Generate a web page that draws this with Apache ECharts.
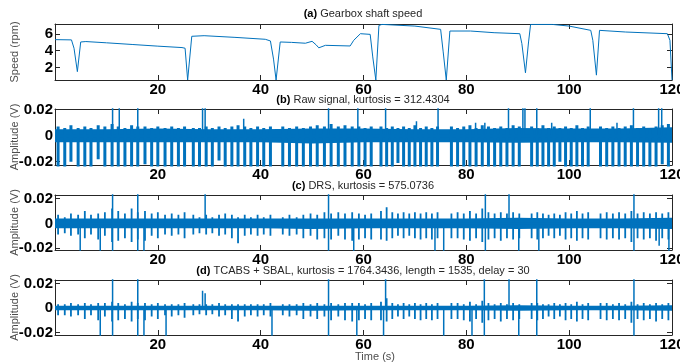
<!DOCTYPE html>
<html><head><meta charset="utf-8">
<script src="https://cdn.jsdelivr.net/npm/echarts@6/dist/echarts.min.js"></script>
<style>html,body{margin:0;padding:0;background:#fff}#c{width:680px;height:364px}</style>
</head><body><div id="c"></div>
<script>
// ---- data ----
const xTicks = [20, 40, 60, 80, 100, 120];
const speedTicks = [2, 4, 6];
const ampTicks = [-0.02, 0, 0.02];

// (a) gearbox shaft speed
const speedT = [0, 3.2, 3.7, 4.0, 4.35, 5.0, 6, 10, 15, 20, 24.7, 25.3, 25.8, 26.6, 29, 35, 40.9, 41.9, 42.5, 43.0, 43.8, 46, 48.7, 50.0, 50.8, 51.3, 52.6, 57.4, 58.1, 59.4, 61.3, 61.8, 62.4, 63.0, 63.6, 70, 75.0, 75.5, 76.1, 76.8, 80.8, 85.4, 90.4, 90.8, 91.5, 92.1, 92.5, 96.7, 100, 104.2, 104.6, 105.3, 105.9, 111, 119.1, 119.6, 120];
const speedV = [5.33, 5.3, 4.3, 4.1, 1.5, 5.05, 5.1, 4.95, 4.75, 4.55, 4.38, 4.3, 0.5, 5.73, 5.8, 5.6, 5.37, 5.17, 3.0, 0.5, 5.05, 5.0, 4.9, 5.13, 4.7, 4.35, 4.65, 4.57, 5.25, 6.04, 5.96, 3.26, 0.5, 7.03, 7.15, 6.95, 6.56, 3.86, 0.5, 6.36, 6.36, 6.16, 6.04, 4.85, 1.36, 5.05, 7.15, 7.15, 6.95, 6.44, 5.25, 1.08, 6.44, 6.24, 6.04, 5.25, 0.5];

// periodic impact times (s), shared by panels (b)-(d)
const combT = [0.6, 1.9, 3.1, 4.5, 5.8, 7.0, 8.4, 9.7, 11.1, 12.3, 13.6, 14.9, 16.1, 17.5, 18.8, 20.0, 21.4, 22.7, 24.0, 25.2,
  26.9, 28.1, 29.4, 30.6, 31.9, 33.1, 34.4, 35.6, 36.9, 38.1, 39.4, 40.6, 41.9,
  44.3, 45.6, 47.0, 48.3, 49.7, 51.0, 52.4, 53.7, 55.1, 56.4, 57.8,
  59.1, 60.3, 61.5,
  63.4, 64.5, 65.6, 66.7, 67.8, 68.9, 70.0, 71.1, 72.2, 73.3, 74.4,
  77.1, 78.3, 79.5, 80.7, 81.9, 83.1, 84.3, 85.5, 86.7, 87.9, 89.1, 90.3,
  92.7, 93.8, 94.9, 96.0, 97.1, 98.2, 99.3, 100.4, 101.5, 102.6, 103.7,
  106.1, 107.3, 108.5, 109.7, 110.9, 112.1, 113.3, 114.5, 115.7, 116.9, 118.1, 119.3];

// amplitudes in mV
const rawUp = [7,6,8,6,7,6,8,7,9,7,6,8,7,7,6,7,6,7,6,7,
  6,6,7,6,7,6,7,8,7,6,7,6,7,
  7,6,7,6,7,8,7,9,7,8,7,
  7,6,7,
  7,6,7,6,7,6,8,6,7,6,7,
  7,6,7,8,6,8,7,6,7,6,8,7,
  7,6,8,6,7,6,7,6,8,6,7,
  7,6,7,6,7,8,6,7,6,7,8,9];
const rawDown = [-24,-24,-20,-24,-24,-24,-18,-24,-24,-24,-24,-24,-24,-22,-24,-24,-24,-24,-24,-24,
  -24,-24,-24,-24,-19,-24,-24,-24,-24,-24,-24,-24,-24,
  -24,-24,-24,-24,-24,-24,-24,-24,-24,-24,-24,
  -24,-24,-24,
  -24,-24,-24,-21,-24,-24,-24,-24,-24,-24,-24,
  -24,-24,-24,-24,-24,-24,-24,-24,-24,-24,-24,-24,
  -24,-24,-24,-24,-24,-20,-24,-24,-24,-24,-24,
  -24,-24,-24,-24,-24,-24,-24,-24,-24,-24,-22,-24];
const drsUp = [7,5,8,7,10,7,8,9,12,10,8,12,9,10,8,9,7,8,7,9,
  7,5,7,5,7,8,7,5,7,5,7,5,7,
  5,7,5,7,8,7,9,8,9,8,9,
  8,7,8,
  10,13,9,8,9,8,9,8,9,8,9,
  8,9,8,10,8,12,9,8,9,8,9,8,
  8,9,8,7,8,7,9,8,10,8,9,
  8,9,8,9,8,10,8,9,8,9,8,9];
const drsDown = [-9,-8,-10,-9,-12,-9,-13,-10,-15,-14,-12,-15,-13,-14,-10,-12,-9,-10,-9,-12,
  -9,-8,-9,-8,-10,-9,-12,-16,-10,-9,-10,-9,-10,
  -9,-10,-9,-12,-10,-13,-12,-13,-10,-13,-14,
  -13,-12,-13,
  -13,-14,-12,-10,-12,-10,-12,-13,-12,-13,-12,
  -12,-12,-13,-14,-12,-15,-13,-12,-14,-12,-13,-12,
  -12,-13,-12,-10,-12,-10,-13,-12,-14,-12,-13,
  -12,-13,-12,-13,-12,-15,-12,-13,-12,-14,-12,-13];
const tcUp = [3,3,4,3,4,3,4,4,5,4,3,5,4,4,3,4,3,3,3,4,
  3,3,3,3,4,3,3,3,3,3,3,3,4,
  3,3,3,4,3,4,3,4,3,4,4,
  4,3,4,
  5,8,4,3,4,3,4,3,4,3,4,
  4,4,3,5,3,6,4,3,4,3,4,3,
  4,4,3,3,4,3,4,3,5,3,4,
  4,4,3,4,3,5,3,4,3,4,3,4];
const tcDown = [-6,-6,-7,-6,-9,-6,-10,-7,-11,-10,-9,-11,-9,-10,-7,-9,-6,-7,-6,-8,
  -6,-5,-6,-5,-7,-6,-9,-11,-7,-6,-7,-6,-7,
  -6,-7,-6,-9,-7,-9,-7,-10,-7,-10,-11,
  -10,-9,-10,
  -10,-11,-9,-7,-9,-7,-9,-10,-9,-10,-9,
  -9,-9,-10,-11,-9,-12,-10,-9,-11,-9,-10,-9,
  -9,-10,-9,-7,-9,-7,-10,-9,-11,-9,-10,
  -9,-10,-9,-10,-9,-12,-9,-10,-9,-11,-9,-10];

// large isolated spikes (mV; 30 = beyond the axis limit)
const rawBigT  = [11.2, 12.5, 16.1, 28.7, 29.2, 36.7, 53.2, 58.9, 64.3, 70.3, 74.5, 81.8, 83.6, 88.2, 91.0, 91.4, 93.7, 96.6, 104.1, 109.3, 112.5, 117.4, 118.0];
const rawBigUp = [30, 30, 30, 30, 30, 13, 30, 30, 30, 11, 30, 10, 10, 30, 30, 30, 30, 10, 30, 10, 30, 30, 30];
const drsBigT    = [4.9, 8.8, 11.2, 16.1, 17.3, 29.2, 53.2, 58.1, 73.9, 75.6, 83.7, 88.3, 90.2, 94.1, 112.6, 117.5, 119.4];
const drsBigUp   = [0, 0, 30, 30, 0, 30, 30, 0, 0, 0, 30, 30, 0, 0, 30, 0, 0];
const drsBigDown = [-30, -30, -30, -30, -30, 0, -30, -30, -30, -30, -30, 0, -30, -30, -30, -18, -30];
const tcBigT    = [8.8, 11.2, 16.1, 17.3, 21.6, 28.7, 29.2, 42.2, 53.2, 58.7, 63.9, 64.3, 75.6, 81.1, 83.5, 88.3, 90.2, 93.7, 112.6];
const tcBigUp   = [0, 30, 30, 0, 0, 14, 12, 0, 30, 0, 0, 30, 0, 0, 30, 30, 0, 30, 30];
const tcBigDown = [-30, -30, -30, -30, -30, 0, 0, -30, -30, -30, -30, 0, -30, -30, -30, 0, -30, -30, -30];

// dense noise band envelope (mV), every 10 s
const bandT = [0, 10, 20, 30, 40, 50, 60, 70, 80, 90, 100, 110, 120];
const rawHi = [5, 5, 5.5, 5, 5, 5.5, 5.5, 5, 5, 6, 5.5, 5.5, 6.5];
const rawLo = [-5, -5, -5, -5, -5, -6, -5, -5, -5, -5.5, -5, -5, -5.5];
const drsHi = [4, 4, 4, 4, 4, 4, 4, 4, 4, 4.5, 4, 4, 4.5];
const drsLo = [-4, -4, -4, -4, -4, -4.5, -4, -4, -4, -4.5, -4, -4, -4.5];
const tcHi = [1.8, 1.8, 1.8, 1.8, 1.8, 1.8, 1.8, 1.8, 1.8, 2.2, 1.8, 1.8, 2.2];
const tcLo = [-1.8, -1.8, -1.8, -1.8, -1.8, -2.2, -1.8, -1.8, -1.8, -2.2, -1.8, -1.8, -2.2];

const titles = [
  ['(a)', 'Gearbox shaft speed'],
  ['(b)', 'Raw signal, kurtosis = 312.4304'],
  ['(c)', 'DRS, kurtosis = 575.0736'],
  ['(d)', 'TCABS + SBAL, kurtosis = 1764.3436, length = 1535, delay = 30']
];

// ---- layout ----
const BLUE = '#0072BD';
const AX = '#262626';
const FONT = '"Liberation Sans", Arial, sans-serif';
const L = 55, R = 8;
const grids = [
  {top: 24, height: 56},
  {top: 109, height: 56},
  {top: 195, height: 55},
  {top: 280, height: 55}
];
const yRanges = [[0.5, 7.2], [-0.0225, 0.0205], [-0.0215, 0.023], [-0.022, 0.0228]];
const yTickSets = [speedTicks, ampTicks, ampTicks, ampTicks];

const xAxes = [], yAxes = [];
grids.forEach((g, i) => {
  const tickCommon = {show: true, inside: true, length: 5, lineStyle: {color: AX, width: 1}};
  xAxes.push({
    type: 'value', gridIndex: i, min: 0, max: 120, position: 'bottom',
    axisLine: {show: true, onZero: false, lineStyle: {color: AX, width: 1}},
    axisTick: Object.assign({customValues: xTicks}, tickCommon),
    axisLabel: {customValues: xTicks, color: '#000', fontFamily: FONT, fontWeight: 'bold', fontSize: 15, margin: 2},
    splitLine: {show: false}
  });
  xAxes.push({
    type: 'value', gridIndex: i, min: 0, max: 120, position: 'top',
    axisLine: {show: true, onZero: false, lineStyle: {color: AX, width: 1}},
    axisTick: Object.assign({customValues: xTicks}, tickCommon),
    axisLabel: {show: false}, splitLine: {show: false}
  });
  yAxes.push({
    type: 'value', gridIndex: i, min: yRanges[i][0], max: yRanges[i][1], position: 'left',
    axisLine: {show: true, onZero: false, lineStyle: {color: AX, width: 1}},
    axisTick: Object.assign({customValues: yTickSets[i]}, tickCommon),
    axisLabel: {customValues: yTickSets[i], color: '#000', fontFamily: FONT, fontWeight: 'bold', fontSize: 15, margin: 2},
    splitLine: {show: false}
  });
  yAxes.push({
    type: 'value', gridIndex: i, min: yRanges[i][0], max: yRanges[i][1], position: 'right',
    axisLine: {show: true, onZero: false, lineStyle: {color: AX, width: 1}},
    axisTick: Object.assign({customValues: yTickSets[i]}, tickCommon),
    axisLabel: {show: false}, splitLine: {show: false}
  });
});

function impulses(ts, ups, downs) {
  const d = [];
  ts.forEach((t, i) => {
    d.push([t, 0]);
    if (ups && ups[i]) d.push([t, ups[i] / 1000]);
    if (downs && downs[i]) d.push([t, downs[i] / 1000]);
    d.push([t, 0]);
  });
  return d;
}
function bandSeries(gi, hi, lo) {
  return {
    type: 'custom', xAxisIndex: gi * 2, yAxisIndex: gi * 2, data: [[0, 0]], silent: true, z: 2,
    renderItem: (p, api) => {
      const pts = [];
      bandT.forEach((t, i) => pts.push(api.coord([t, hi[i] / 1000])));
      for (let i = bandT.length - 1; i >= 0; i--) pts.push(api.coord([bandT[i], lo[i] / 1000]));
      return {type: 'polygon', shape: {points: pts}, style: {fill: BLUE}};
    }
  };
}
function lineSeries(gi, data, w) {
  return {
    type: 'line', xAxisIndex: gi * 2, yAxisIndex: gi * 2, data: data, symbol: 'none',
    clip: true, silent: true, animation: false, z: 3,
    lineStyle: {color: BLUE, width: w}
  };
}

const series = [
  lineSeries(0, speedT.map((t, i) => [t, speedV[i]]), 1),
  bandSeries(1, rawHi, rawLo),
  lineSeries(1, impulses(combT, rawUp, rawDown), 3),
  lineSeries(1, impulses(rawBigT, rawBigUp, null), 1.5),
  bandSeries(2, drsHi, drsLo),
  lineSeries(2, impulses(combT, drsUp, drsDown), 1.8),
  lineSeries(2, impulses(drsBigT, drsBigUp, drsBigDown), 1.5),
  bandSeries(3, tcHi, tcLo),
  lineSeries(3, impulses(combT, tcUp, tcDown), 1.8),
  lineSeries(3, impulses(tcBigT, tcBigUp, tcBigDown), 1.5)
];

const titleY = [14, 100, 186, 271];
const graphic = [];
titles.forEach((tt, i) => {
  graphic.push({
    type: 'text', x: 363, y: titleY[i], silent: true,
    style: {
      text: '{b|' + tt[0] + '} ' + tt[1], align: 'center', verticalAlign: 'middle',
      fontFamily: FONT, fontSize: 11, fill: '#262626',
      rich: {b: {fontFamily: FONT, fontSize: 11, fontWeight: 'bold', fill: '#000'}}
    }
  });
});
const yNames = ['Speed (rpm)', 'Amplitude (V)', 'Amplitude (V)', 'Amplitude (V)'];
grids.forEach((g, i) => {
  graphic.push({
    type: 'text', x: 15, y: g.top + g.height / 2, rotation: Math.PI / 2, silent: true,
    style: {text: yNames[i], align: 'center', verticalAlign: 'middle', fontFamily: FONT, fontSize: 11, fill: '#4d4d4d'}
  });
});
graphic.push({
  type: 'text', x: 375, y: 357, silent: true,
  style: {text: 'Time (s)', align: 'center', verticalAlign: 'middle', fontFamily: FONT, fontSize: 11, fill: '#4d4d4d'}
});

const chart = echarts.init(document.getElementById('c'), null, {renderer: 'canvas'});
chart.setOption({
  animation: false,
  grid: grids.map(g => ({left: L, right: R, top: g.top, height: g.height, containLabel: false, outerBoundsMode: 'none'})),
  xAxis: xAxes,
  yAxis: yAxes,
  series: series,
  graphic: graphic
});
</script></body></html>
